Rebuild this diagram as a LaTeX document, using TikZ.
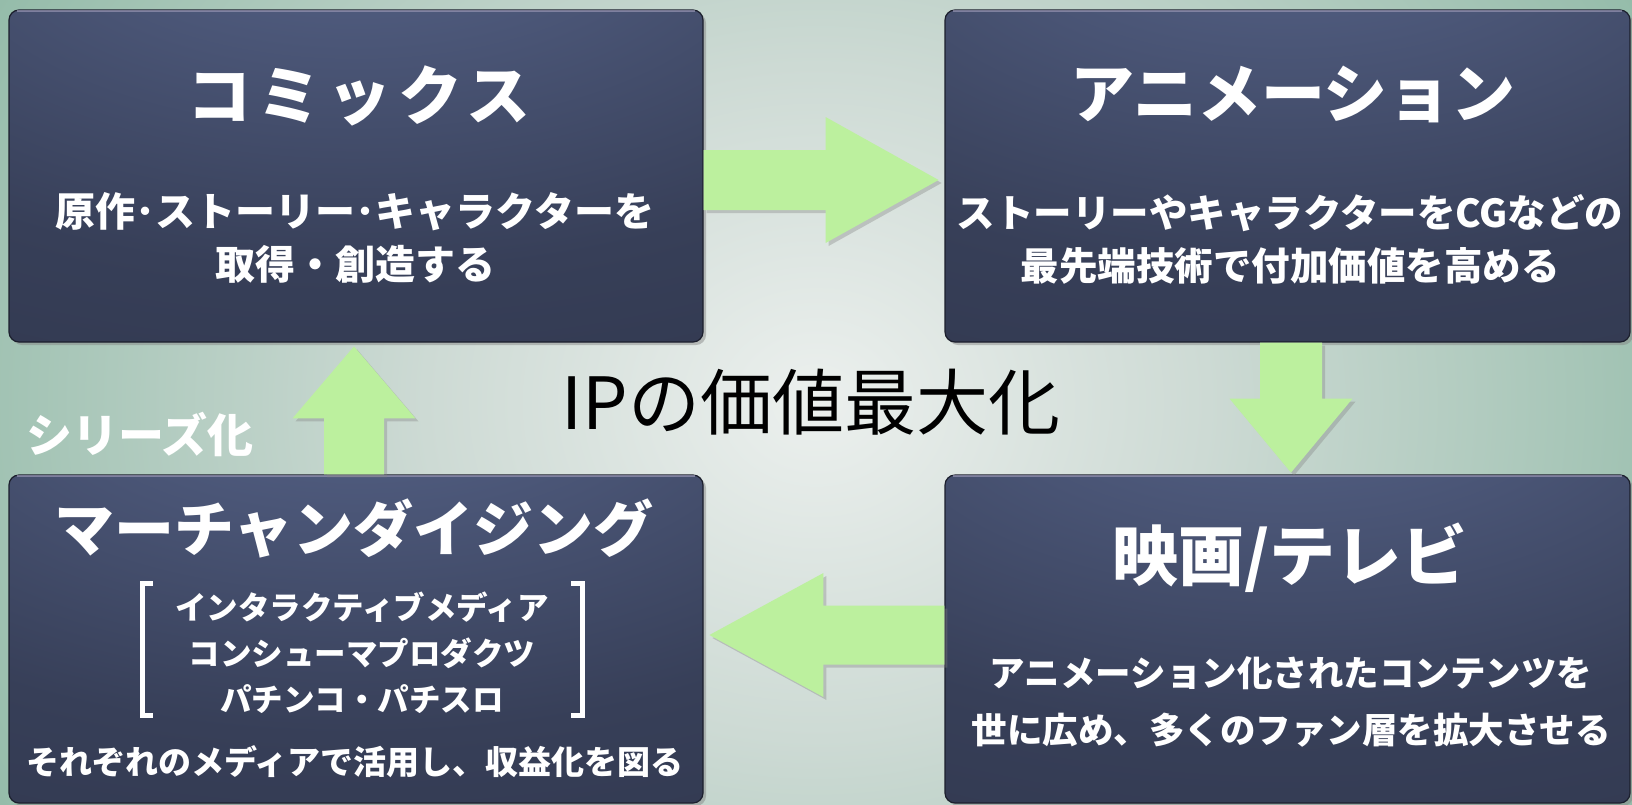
\documentclass[tikz,border=0pt]{standalone}
\usepackage{fontspec}
\setmainfont{Noto Sans CJK JP}
\usetikzlibrary{calc,shadows}
\definecolor{bgA}{RGB}{236,240,238}
\definecolor{bgB}{RGB}{205,218,212}
\definecolor{bgC}{RGB}{145,186,167}
\definecolor{bgD}{RGB}{106,162,136}
\definecolor{boxlight}{RGB}{92,106,146}
\definecolor{boxmid}{RGB}{55,63,88}
\definecolor{boxdark}{RGB}{34,39,57}
\definecolor{boxedge}{RGB}{28,31,45}
\definecolor{boxhl}{RGB}{150,148,178}
\definecolor{arrowgreen}{RGB}{188,240,158}
\pgfdeclareradialshading{bgshade}{\pgfpoint{0bp}{0bp}}{color(0bp)=(bgA); color(12bp)=(bgB); color(30bp)=(bgC); color(48bp)=(bgD); color(80bp)=(bgD)}
\pgfdeclareradialshading{boxshade}{\pgfpoint{0bp}{50bp}}{color(0bp)=(boxlight); color(45bp)=(boxmid); color(115bp)=(boxdark)}
\begin{document}
\begin{tikzpicture}[x=1pt,y=-1pt,
  box/.style={rectangle, rounded corners=10pt, shade, shading=boxshade, draw=boxedge, line width=1.2pt,
    drop shadow={shadow xshift=3pt, shadow yshift=-3pt, opacity=.45}, inner sep=0pt},
  tophl/.style={draw=boxhl, line width=2pt, opacity=.7},
  blockarrow/.style={fill=arrowgreen, drop shadow={shadow xshift=3pt, shadow yshift=-3pt, opacity=.35}},
  boxtitle/.style={text=white, font=\bfseries\fontsize{64}{72}\selectfont, inner sep=0pt},
  desc/.style={text=white, align=center, inner sep=0pt},
  bracketline/.style={draw=white, line width=5pt}
]
\useasboundingbox (0,0) rectangle (1632,804);
\begin{scope}
  \clip (0,0) rectangle (1632,804);
  \shade[shading=bgshade] (0,-300) rectangle (1632,1104);
\end{scope}

% boxes
\node[box, minimum width=694pt, minimum height=332pt] (comics) at (356,176) {};
\node[box, minimum width=685pt, minimum height=332pt] (anim) at (1287.5,176) {};
\node[box, minimum width=694pt, minimum height=328pt] (merch) at (356,639) {};
\node[box, minimum width=685pt, minimum height=328pt] (film) at (1287.5,639) {};
\foreach \b in {comics,anim,merch,film}{
  \draw[tophl] ([xshift=9pt,yshift=-2pt]\b.north west) -- ([xshift=-9pt,yshift=-2pt]\b.north east);
}

% arrows
\fill[blockarrow, shift={($(comics.east)+(0,4)$)}]
  (0,-30) -- (122,-30) -- (122,-63) -- (235,0) -- (122,63) -- (122,30) -- (0,30) -- cycle;
\fill[blockarrow, shift={($(anim.south)+(3.5,0)$)}]
  (-31,0) -- (-31,56) -- (-61.5,56) -- (0,130) -- (61.5,56) -- (31,56) -- (31,0) -- cycle;
\fill[blockarrow, shift={($(film.west)+(0,-4)$)}]
  (0,-29.5) -- (-121,-29.5) -- (-121,-62) -- (-235,0) -- (-121,62) -- (-121,29.5) -- (0,29.5) -- cycle;
\fill[blockarrow, shift={($(merch.north)+(-2,0)$)}]
  (-30,0) -- (-30,-56) -- (-61.5,-56) -- (0,-128) -- (61.5,-56) -- (30,-56) -- (30,0) -- cycle;

% texts
\node[boxtitle, font=\bfseries\fontsize{64}{72}\selectfont\addfontfeature{LetterSpace=10}] (comicsT) at (359,96) {コミックス};
\node[desc, font=\bfseries\fontsize{40}{53}\selectfont] (comicsD) at (355,237.5) {原作･ストーリー･キャラクターを\\取得・創造する};

\node[boxtitle] (animT) at (1293,94) {アニメーション};
\node[desc, font=\bfseries\fontsize{38.5}{53}\selectfont] (animD) at (1290,239.5) {ストーリーやキャラクターをCGなどの\\最先端技術で付加価値を高める};

\node[boxtitle, font=\bfseries\fontsize{66}{72}\selectfont] (filmT) at (1290,558) {映画/テレビ};
\node[desc, font=\bfseries\fontsize{35.5}{57}\selectfont] (filmD) at (1291,701.5) {アニメーション化されたコンテンツを\\世に広め、多くのファン層を拡大させる};

\node[boxtitle, font=\bfseries\fontsize{60}{72}\selectfont] (merchT) at (354,528) {マーチャンダイジング};
\node[desc, font=\bfseries\fontsize{31.5}{46}\selectfont] (merchL) at (362,653) {インタラクティブメディア\\コンシューマプロダクツ\\パチンコ・パチスロ};
\node[desc, font=\bfseries\fontsize{33}{40}\selectfont] (merchD) at (355,762) {それぞれのメディアで活用し、収益化を図る};

\draw[bracketline] ([xshift=-220pt,yshift=70pt]merchL.center) ++(11,0) -- ++(-11,0) -- ++(0,132) -- ++(11,0);
\draw[bracketline] ([xshift=220pt,yshift=70pt]merchL.center) ++(-11,0) -- ++(11,0) -- ++(0,132) -- ++(-11,0);

\node[text=white, font=\bfseries\fontsize{46}{52}\selectfont, inner sep=0pt] (series) at (140,434) {シリーズ化};
\node[text=black, font=\fontsize{72}{80}\selectfont, inner sep=0pt] (ip) at (811,402) {IPの価値最大化};
\end{tikzpicture}
\end{document}
